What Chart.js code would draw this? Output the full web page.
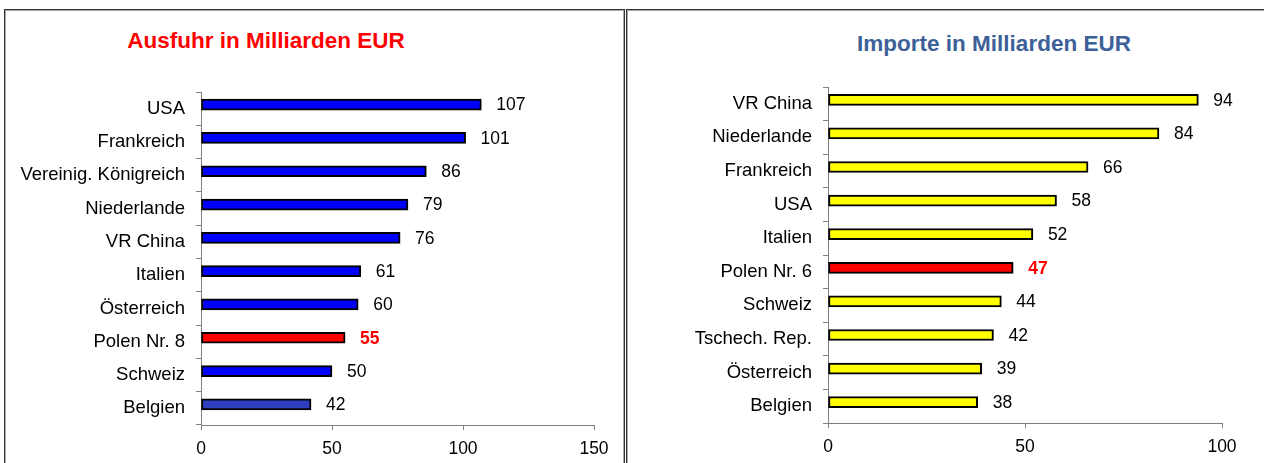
<!DOCTYPE html>
<html>
<head>
<meta charset="utf-8">
<script src="https://cdn.jsdelivr.net/npm/chart.js@4.4.1/dist/chart.umd.min.js"></script>
<style>
  html, body { margin: 0; padding: 0; background: #fff; width: 1264px; height: 463px; overflow: hidden; font-family: "Liberation Sans", Arial, sans-serif; }
  .panel { position: absolute; top: 9px; height: 470px; border-top: 1px solid #333; border-left: 1px solid #333; border-right: 1px solid #333; box-shadow: inset 0 1px 0 #aaa, inset 1px 0 0 #aaa, inset -1px 0 0 #aaa; }
  .title { position: absolute; font-weight: bold; font-size: 22.5px; white-space: nowrap; transform: translate(-50%, -50%); }
  canvas { position: absolute; top: 0; }
</style>
</head>
<body>
<div class="panel" style="left:4px; width:619px;"></div>
<div class="panel" style="left:626px; width:650px;"></div>
<div class="title" style="left:266px; top:41px; color:#ff0000;">Ausfuhr in Milliarden EUR</div>
<div class="title" style="left:994px; top:44px; color:#3d6098;">Importe in Milliarden EUR</div>
<canvas id="c1" width="624" height="463" style="left:0px;"></canvas>
<canvas id="c2" width="637" height="463" style="left:627px;"></canvas>
<script>
// ---- Data ----
const exportCountries = ["USA", "Frankreich", "Vereinig. Königreich", "Niederlande", "VR China", "Italien", "Österreich", "Polen Nr. 8", "Schweiz", "Belgien"];
const exportValues = [107, 101, 86, 79, 76, 61, 60, 55, 50, 42];
const exportTicks = [0, 50, 100, 150];

const importCountries = ["VR China", "Niederlande", "Frankreich", "USA", "Italien", "Polen Nr. 6", "Schweiz", "Tschech. Rep.", "Österreich", "Belgien"];
const importValues = [94, 84, 66, 58, 52, 47, 44, 42, 39, 38];
const importTicks = [0, 50, 100];

// ---- Styles ----
const exportColors = ["#0000ff", "#0000ff", "#0000ff", "#0000ff", "#0000ff", "#0000ff", "#0000ff", "#ff0000", "#0000ff", "#2e40c0"];
const importColors = ["#ffff00", "#ffff00", "#ffff00", "#ffff00", "#ffff00", "#ff0000", "#ffff00", "#ffff00", "#ffff00", "#ffff00"];
const FONT = "'Liberation Sans', Arial, sans-serif";
const BAR_SHIFT = -4;

const valueLabels = {
  id: 'valueLabels',
  beforeDatasetsDraw(chart) {
    chart.ctx.save();
    chart.ctx.translate(0, BAR_SHIFT);
  },
  afterDatasetsDraw(chart) {
    const ctx = chart.ctx;
    const meta = chart.getDatasetMeta(0);
    const ds = chart.data.datasets[0];
    ctx.textBaseline = 'middle';
    ctx.textAlign = 'left';
    meta.data.forEach((bar, i) => {
      const highlight = ds.highlight[i];
      ctx.font = (highlight ? 'bold ' : '') + '17.5px ' + FONT;
      ctx.fillStyle = highlight ? '#ff0000' : '#000000';
      ctx.fillText(String(ds.data[i]), bar.x + 15, bar.y + 1);
    });
    ctx.restore();
  }
};

function makeChart(id, labels, values, colors, ticks, pad, yWidth, xHeight) {
  const max = ticks[ticks.length - 1];
  return new Chart(document.getElementById(id), {
    type: 'bar',
    data: {
      labels: labels,
      datasets: [{
        data: values,
        backgroundColor: colors,
        borderColor: '#000',
        borderWidth: 2,
        borderSkipped: false,
        barThickness: 11,
        highlight: labels.map(l => l.startsWith('Polen'))
      }]
    },
    options: {
      indexAxis: 'y',
      responsive: false,
      animation: false,
      events: [],
      layout: { padding: pad },
      plugins: { legend: { display: false }, tooltip: { enabled: false }, title: { display: false } },
      scales: {
        x: {
          type: 'linear',
          min: 0, max: max,
          afterBuildTicks: (s) => { s.ticks = ticks.map(v => ({ value: v })); },
          afterFit: (s) => { s.height = xHeight; },
          border: { color: '#808080', width: 1 },
          grid: { drawOnChartArea: false, drawTicks: true, tickLength: 5, color: '#808080' },
          ticks: { color: '#000', font: { family: FONT, size: 17.5 }, padding: 9, maxRotation: 0 }
        },
        y: {
          afterFit: (s) => { s.width = yWidth; },
          border: { color: '#808080', width: 1 },
          grid: { offset: true, drawOnChartArea: false, drawTicks: true, tickLength: 5, color: '#808080' },
          ticks: { color: '#000', font: { family: FONT, size: 18.5 }, padding: 11, autoSkip: false }
        }
      }
    },
    plugins: [valueLabels]
  });
}

makeChart('c1', exportCountries, exportValues, exportColors, exportTicks,
  { left: 0, right: 30, top: 92, bottom: 0 }, 201, 38);
makeChart('c2', importCountries, importValues, importColors, importTicks,
  { left: 0, right: 42, top: 87, bottom: 0 }, 201, 40);
</script>
</body>
</html>
